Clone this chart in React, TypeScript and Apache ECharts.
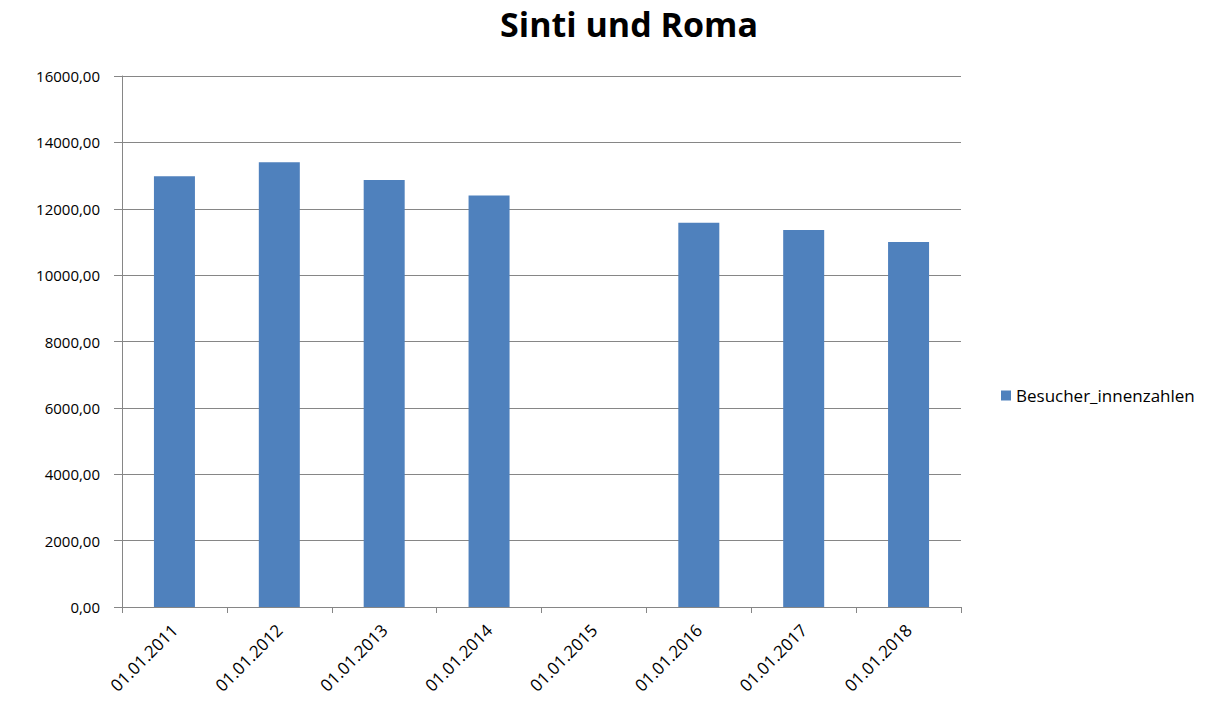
import React, { useEffect, useRef } from "react";
import * as echarts from "echarts";

const categories = ["01.01.2011", "01.01.2012", "01.01.2013", "01.01.2014", "01.01.2015", "01.01.2016", "01.01.2017", "01.01.2018"];
const values: (number | null)[] = [12980, 13400, 12870, 12400, null, 11580, 11360, 11000];
const seriesName = "Besucher_innenzahlen";
const titleText = "Sinti und Roma";

export default function App() {
  const ref = useRef<HTMLDivElement>(null);
  useEffect(() => {
    const chart = echarts.init(ref.current!, null, { renderer: "svg" });
    const font = "'Open Sans', 'DejaVu Sans', sans-serif";
    chart.setOption({
      animation: false,
      backgroundColor: "#ffffff",
      title: {
        text: titleText,
        left: 624,
        textAlign: "center",
        top: 2,
        textStyle: { fontFamily: font, fontSize: 34, fontWeight: "bold", color: "#000" },
      },
      legend: {
        orient: "vertical",
        left: 996,
        top: 382,
        itemWidth: 10,
        itemHeight: 10,
        itemGap: 4,
        icon: "rect",
        textStyle: { fontFamily: font, fontSize: 17, color: "#000" },
        data: [seriesName],
      },
      grid: { left: 122, right: 271, top: 76, bottom: 106, containLabel: false },
      xAxis: {
        type: "category",
        data: categories,
        axisLine: { lineStyle: { color: "#868686", width: 1 } },
        axisTick: { show: true, alignWithLabel: false, length: 6, lineStyle: { color: "#868686" } },
        axisLabel: { rotate: 45, interval: 0, fontFamily: font, fontSize: 17, color: "#000", margin: 20 },
      },
      yAxis: {
        type: "value",
        min: 0,
        max: 16000,
        interval: 2000,
        axisLine: { show: true, lineStyle: { color: "#868686", width: 1 } },
        axisTick: { show: true, length: 8, inside: false, lineStyle: { color: "#868686" } },
        splitLine: { show: true, lineStyle: { color: "#868686", width: 1 } },
        axisLabel: {
          fontFamily: font,
          fontSize: 15,
          color: "#000",
          margin: 22,
          formatter: (v: number) => v.toFixed(2).replace(".", ","),
        },
      },
      series: [
        {
          name: seriesName,
          type: "bar",
          data: values,
          barWidth: 41,
          itemStyle: { color: "#4f81bd" },
        },
      ],
    });
    return () => chart.dispose();
  }, []);
  return <div ref={ref} style={{ width: 1232, height: 713, position: "absolute", left: 0, top: 0 }} />;
}
